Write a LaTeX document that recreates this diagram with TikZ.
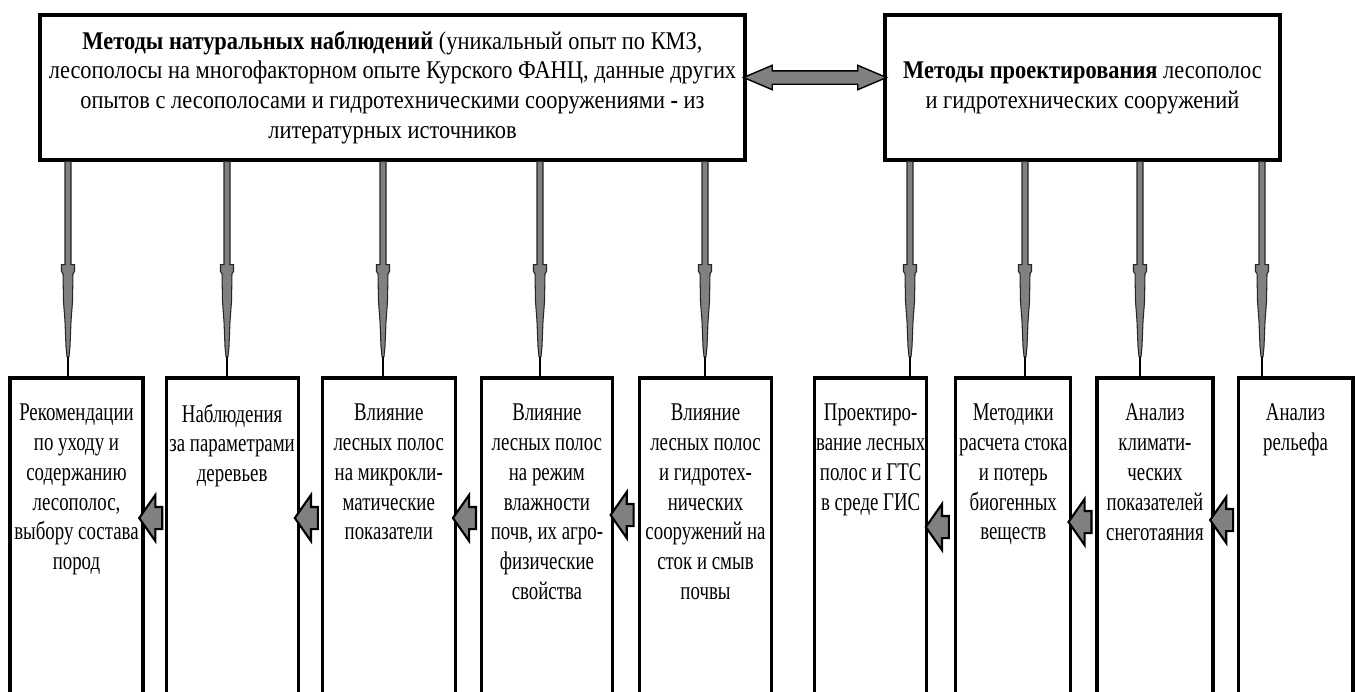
\documentclass[tikz,border=0pt]{standalone}
\usepackage{fontspec}
\setmainfont{Liberation Serif}[FakeStretch=0.74]
\newfontfamily\wideserif{Liberation Serif}[FakeStretch=0.88]
\usetikzlibrary{positioning,shapes.arrows}

\newcommand\downlink[2]{%
  \filldraw[link,shift={(#1)}] (-3,0) -- (3,0) -- (3,103) -- (6.5,103) -- (6.5,110) -- (5,112)
    -- (4.5,140) -- (3,160) -- (2,185) -- (1,195) -- (-1,195) -- (-2,185) -- (-3,160)
    -- (-4.5,140) -- (-5,112) -- (-6.5,110) -- (-6.5,103) -- (-3,103) -- cycle;
  \draw[line width=0.8pt,shift={(#1)}] (0,195) -- (#2);
}

\begin{document}
\begin{tikzpicture}[x=0.02cm,y=-0.02cm,font=\fontsize{14.5}{17}\selectfont,
    topbox/.style={draw,line width=1.8pt,minimum height=2.9cm,align=center,inner sep=0pt,
      font=\wideserif\fontsize{14.5}{17}\selectfont},
    lowbox/.style={draw,line width=1.8pt,minimum height=6.84cm,inner sep=0pt},
    lowtext/.style={anchor=north,align=center,inner sep=0pt,yshift=-0.54cm},
    leftarrow/.style={single arrow,shape border rotate=180,draw=black,fill=gray,line width=1.2pt,
      inner xsep=0pt,inner ysep=0.2cm,single arrow head extend=0.24cm,
      single arrow tip angle=110,minimum height=0.46cm,minimum width=0.88cm},
    dblarrow/.style={double arrow,draw=black,fill=gray,line width=0.8pt,inner xsep=0pt,
      inner ysep=0.12cm,double arrow head extend=0.11cm,double arrow tip angle=46,
      minimum height=2.86cm},
    link/.style={draw=black!85,fill=gray,line width=0.6pt}]

  \useasboundingbox (0,0) rectangle (1358,691);
  \clip (0,0) rectangle (1358,691);

  \node[topbox,minimum width=14.1cm] (nat) at (392.5,87.5)
    {\textbf{Методы натуральных наблюдений} (уникальный опыт по КМЗ,\\
     лесополосы на многофакторном опыте Курского ФАНЦ, данные других\\
     опытов с лесополосами и гидротехническими сооружениями \textbf{-} из\\
     литературных источников};
  \node[topbox,minimum width=7.9cm,right=2.74cm of nat] (proj)
    {\textbf{Методы проектирования} лесополос\\и гидротехнических сооружений};

  \path ([yshift=0.2cm]nat.east) -- node[dblarrow] (both) {} ([yshift=0.2cm]proj.west);

  % lower row
  \node[lowbox,minimum width=2.66cm] (b1) at (76.5,549) {};
  \node[lowbox,minimum width=2.64cm,right=0.40cm of b1] (b2) {};
  \node[lowbox,minimum width=2.66cm,right=0.42cm of b2] (b3) {};
  \node[lowbox,minimum width=2.62cm,right=0.46cm of b3] (b4) {};
  \node[lowbox,minimum width=2.64cm,right=0.48cm of b4] (b5) {};
  \node[lowbox,minimum width=2.24cm,right=0.80cm of b5] (b6) {};
  \node[lowbox,minimum width=2.30cm,right=0.52cm of b6] (b7) {};
  \node[lowbox,minimum width=2.32cm,right=0.46cm of b7] (b8) {};
  \node[lowbox,minimum width=2.30cm,right=0.44cm of b8] (b9) {};

  \node[lowtext] (t1) at (b1.north)
    {Рекомендации\\по уходу и\\содержанию\\лесополос,\\выбору состава\\пород};
  \node[lowtext] (t2) at (b2.north)
    {Наблюдения\\за параметрами\\деревьев};
  \node[lowtext] (t3) at (b3.north)
    {Влияние\\лесных полос\\на микрокли-\\матические\\показатели};
  \node[lowtext] (t4) at (b4.north)
    {Влияние\\лесных полос\\на режим\\влажности\\почв, их агро-\\физические\\свойства};
  \node[lowtext] (t5) at (b5.north)
    {Влияние\\лесных полос\\и гидротех-\\нических\\сооружений на\\сток и смыв\\почвы};
  \node[lowtext] (t6) at (b6.north)
    {Проектиро-\\вание лесных\\полос и ГТС\\в среде ГИС};
  \node[lowtext] (t7) at (b7.north)
    {Методики\\расчета стока\\и потерь\\биогенных\\веществ};
  \node[lowtext] (t8) at (b8.north)
    {Анализ\\климати-\\ческих\\показателей\\снеготаяния};
  \node[lowtext] (t9) at (b9.north)
    {Анализ\\рельефа};

  \foreach \x/\s/\b in {68/nat/b1,227/nat/b2,383/nat/b3,540/nat/b4,705/nat/b5,
                        910/proj/b6,1025/proj/b7,1140/proj/b8,1262/proj/b9} {
    \coordinate (u\b) at (\s.south -| \x,0);
    \coordinate (d\b) at (\b.north -| \x,0);
    \downlink{u\b}{d\b}
  }

  \foreach \a/\b/\dy in {b2/b1/0.62cm,b3/b2/0.62cm,b4/b3/0.62cm,b5/b4/0.68cm,
                         b7/b6/0.44cm,b8/b7/0.54cm,b9/b8/0.58cm}
    \path ([yshift=\dy]\a.west) -- node[leftarrow] (a\a) {} ([yshift=\dy]\b.east);
\end{tikzpicture}
\end{document}
